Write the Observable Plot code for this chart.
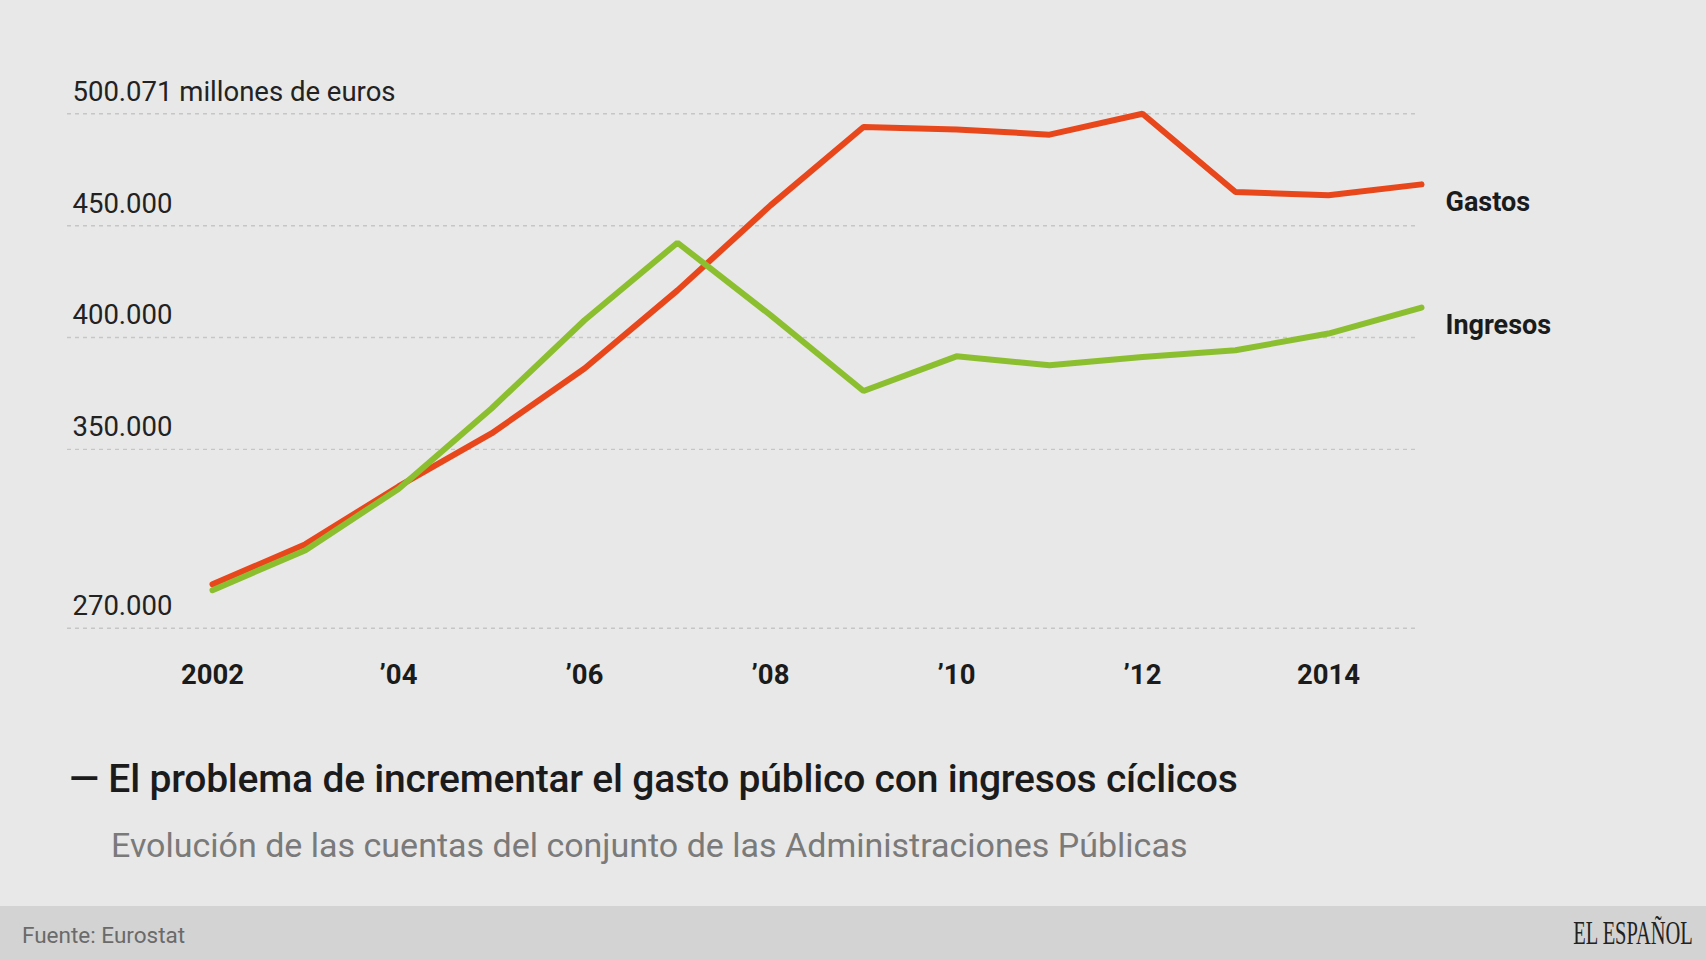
<!DOCTYPE html>
<html>
<head>
<meta charset="utf-8">
<script src="https://cdn.jsdelivr.net/npm/d3@7"></script>
<script src="https://cdn.jsdelivr.net/npm/@observablehq/plot@0.6"></script>
<style>
  html, body { margin: 0; padding: 0; background: #e8e8e8; }
  #page { position: relative; width: 1706px; height: 960px; overflow: hidden; background: #e8e8e8; font-family: Roboto, "Noto Sans", sans-serif; }
  #chart { position: absolute; left: 0; top: 0; }
  .title { position: absolute; left: 69px; top: 754px; font-size: 39px; font-weight: 500; color: #1b1b1b; line-height: 50px; white-space: nowrap; letter-spacing: -0.2px; }
  .subtitle { position: absolute; left: 111px; top: 825px; font-size: 34px; font-weight: 400; color: #7a7a7a; line-height: 40px; white-space: nowrap; }
  .footer { position: absolute; left: 0; top: 906px; width: 1706px; height: 54px; background: #d3d3d3; }
  .source { position: absolute; left: 22px; top: 920px; font-size: 22.5px; color: #6a6a6a; line-height: 30px; }
  .logo { position: absolute; right: 13px; top: 913px; font-family: "Liberation Serif", "DejaVu Serif", serif; font-size: 33px; color: #222; line-height: 40px; transform: scaleX(0.62); transform-origin: right center; white-space: nowrap; }
</style>
</head>
<body>
<div id="page">
  <div id="chart"></div>
  <div class="title">— El problema de incrementar el gasto público con ingresos cíclicos</div>
  <div class="subtitle">Evolución de las cuentas del conjunto de las Administraciones Públicas</div>
  <div class="footer"></div>
  <div class="source">Fuente: Eurostat</div>
  <div class="logo">EL ESPAÑOL</div>
</div>
<script>
// ---- Data (millones de euros) ----
const years    = [2002, 2003, 2004, 2005, 2006, 2007, 2008, 2009, 2010, 2011, 2012, 2013, 2014, 2015];
const gastos   = [289600, 307600, 333400, 357100, 386150, 421100, 459100, 494150, 493100, 490750, 500071, 465100, 463600, 468500];
const ingresos = [287000, 304900, 332300, 368250, 407750, 442400, 410000, 376100, 391600, 387600, 391300, 394300, 401800, 413400];
const seriesNames  = ["Gastos", "Ingresos"];
const seriesColors = ["#e8471c", "#8cbf2f"];
const yTicks = [270000, 350000, 400000, 450000, 500071];
const xTicks = [2002, 2004, 2006, 2008, 2010, 2012, 2014];
const xTickLabels = ["2002", "’04", "’06", "’08", "’10", "’12", "2014"];

const rows = [];
years.forEach((yr, i) => {
  rows.push({year: yr, value: gastos[i], serie: "Gastos"});
});
years.forEach((yr, i) => {
  rows.push({year: yr, value: ingresos[i], serie: "Ingresos"});
});
const lastRows = seriesNames.map(s => rows.filter(r => r.serie === s).at(-1));

const esFmt = d3.formatLocale({decimal: ",", thousands: ".", grouping: [3], currency: ["", " €"]}).format(",d");
const yMax = d3.max(yTicks);
const yFmt = v => v === yMax ? esFmt(v) + " millones de euros" : esFmt(v);
const xFmt = v => xTickLabels[xTicks.indexOf(v)];

const W = 1706, H = 700;
const chart = Plot.plot({
  width: W,
  height: H,
  marginTop: 113.3,
  marginBottom: 72.3,
  marginLeft: 67,
  marginRight: 289,
  style: {background: "transparent", fontFamily: "Roboto, 'Noto Sans', sans-serif", color: "#1b1b1b", overflow: "visible"},
  x: {domain: [2002, 2015], insetLeft: 145, insetRight: -4},
  y: {domain: [270000, yMax]},
  color: {domain: seriesNames, range: seriesColors},
  marks: [
    Plot.ruleY(yTicks, {stroke: "#c6c6c6", strokeWidth: 1.4, strokeDasharray: "4,4"}),
    Plot.axisY({ticks: yTicks, tickFormat: yFmt, tickSize: 0, tickPadding: 0, textAnchor: "start", dx: 5, dy: -22, fontSize: 27.5, fill: "#222", label: null}),
    Plot.axisX({ticks: xTicks, tickFormat: xFmt, tickSize: 0, tickPadding: 36, fontSize: 27.5, fontWeight: 700, fill: "#1b1b1b", label: null}),
    Plot.line(rows, {x: "year", y: "value", z: "serie", stroke: "serie", strokeWidth: 6, strokeLinejoin: "miter", strokeLinecap: "round"}),
    Plot.text(lastRows, {x: "year", y: "value", text: "serie", textAnchor: "start", dx: 24, dy: 18, fontSize: 27, fontWeight: 700, fill: "#1b1b1b"})
  ]
});
document.getElementById("chart").appendChild(chart);
</script>
</body>
</html>
